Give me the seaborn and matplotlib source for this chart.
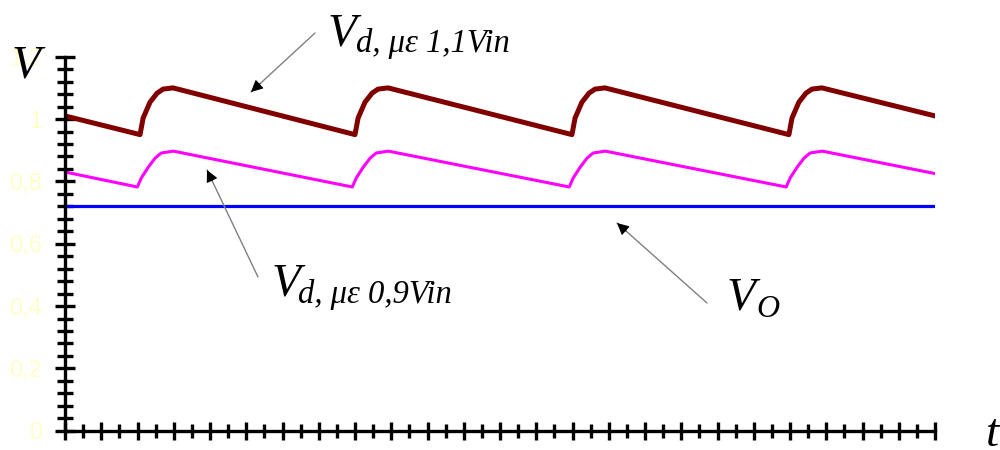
import numpy as np
import matplotlib
matplotlib.use("Agg")
import matplotlib.pyplot as plt
import seaborn as sns

# Time axis in tick units (48 divisions along t)
t_high = [0.0, 4.14, 4.31, 4.69, 5.08, 5.41, 5.96,
          16.0, 16.17, 16.55, 16.94, 17.27, 17.82,
          27.97, 28.14, 28.52, 28.91, 29.24, 29.79,
          39.94, 40.11, 40.49, 40.88, 41.21, 41.76, 48.0]
v_high = [1.01, 0.95, 1.003, 1.054, 1.083, 1.096, 1.10,
          0.95, 1.003, 1.054, 1.083, 1.096, 1.10,
          0.95, 1.003, 1.054, 1.083, 1.096, 1.10,
          0.95, 1.003, 1.054, 1.083, 1.096, 1.10, 1.01]

t_low = [0.0, 3.99, 4.21, 4.60, 4.98, 5.31, 5.98,
         15.85, 16.07, 16.46, 16.84, 17.17, 17.84,
         27.82, 28.04, 28.43, 28.81, 29.14, 29.81,
         39.79, 40.01, 40.40, 40.78, 41.11, 41.78, 48.0]
v_low = [0.83, 0.782, 0.811, 0.846, 0.875, 0.891, 0.897,
         0.782, 0.811, 0.846, 0.875, 0.891, 0.897,
         0.782, 0.811, 0.846, 0.875, 0.891, 0.897,
         0.782, 0.811, 0.846, 0.875, 0.891, 0.897, 0.825]

t_out = [0.0, 48.0]
v_out = [0.72, 0.72]

y_ticks = [0.0, 0.2, 0.4, 0.6, 0.8, 1.0, 1.2]
y_tick_labels = ["0", "0,2", "0,4", "0,6", "0,8", "1", "1,2"]

label_high = "d, με 1,1Vin"
label_low = "d, με 0,9Vin"
label_out = "O"

sns.set_theme(style="white")
plt.rcParams["font.family"] = ["Liberation Sans", "DejaVu Sans"]

W, H = 1000, 450
fig = plt.figure(figsize=(W / 100, H / 100), dpi=100)
ax = fig.add_axes([65 / W, (H - 430.7) / H, 870 / W, 374 / H])

sns.lineplot(x=t_out, y=v_out, ax=ax, color="#0000FF", linewidth=2.3)
sns.lineplot(x=t_low, y=v_low, ax=ax, color="#FF00FF", linewidth=2.2)
sns.lineplot(x=t_high, y=v_high, ax=ax, color="#800000", linewidth=3.6)

ax.set_xlim(0, 48)
ax.set_ylim(0, 1.2)
ax.set_xlabel("")
ax.set_ylabel("")

for side in ("top", "right"):
    ax.spines[side].set_visible(False)
for side in ("left", "bottom"):
    ax.spines[side].set_color("black")
    ax.spines[side].set_linewidth(2.4)

# y axis: labelled ticks every 0.2, small ticks every 0.04
ax.set_yticks(y_ticks)
ax.set_yticklabels(y_tick_labels)
ax.set_yticks(np.arange(0, 1.2001, 0.04), minor=True)
# x axis: long ticks on even divisions, short ones on odd divisions
ax.set_xticks(np.arange(0, 48.5, 2))
ax.set_xticklabels([])
ax.set_xticks(np.arange(1, 48, 2), minor=True)

ax.tick_params(axis="y", which="major", direction="inout", length=14.4,
               width=2.4, color="black", pad=9.4, labelsize=17,
               labelcolor="#FFFFC8", left=True)
ax.tick_params(axis="y", which="minor", direction="inout", length=12,
               width=2.4, color="black", left=True)
ax.tick_params(axis="x", which="major", direction="inout", length=13,
               width=2.4, color="black", bottom=True)
ax.tick_params(axis="x", which="minor", direction="inout", length=10,
               width=2.4, color="black", bottom=True)
ax.set_facecolor("white")

serif = dict(family=["Liberation Serif", "DejaVu Serif"], style="italic", color="black")


def px(x, y):
    return x / W, (H - y) / H


def label(xv, yv, xs, ys, sub, sub_size=23.5):
    fig.text(*px(xv, yv), "V", fontsize=34, va="baseline", ha="left", **serif)
    fig.text(*px(xs, ys), sub, fontsize=sub_size, va="baseline", ha="left", **serif)


def pointer(tail, head):
    tx, ty = tail[0], H - tail[1]
    hx, hy = head[0], H - head[1]
    ax.annotate("", xy=(hx, hy), xycoords="figure pixels",
                xytext=(tx, ty), textcoords="figure pixels",
                arrowprops=dict(arrowstyle="-", color="#808080", lw=1.0,
                                shrinkA=0, shrinkB=0))
    d = np.hypot(hx - tx, hy - ty)
    bx, by = hx - (hx - tx) / d * 12, hy - (hy - ty) / d * 12
    ax.annotate("", xy=(hx, hy), xycoords="figure pixels",
                xytext=(bx, by), textcoords="figure pixels",
                arrowprops=dict(arrowstyle="-|>,head_length=0.4,head_width=0.2",
                                mutation_scale=18, color="black", lw=0.8,
                                shrinkA=0, shrinkB=0))


label(328, 45, 356, 52, label_high)
label(272, 295, 298, 303, label_low)
label(727, 310, 756, 317, label_out, sub_size=23)

pointer((315, 33), (251, 92))
pointer((258, 277), (207, 170))
pointer((707, 303), (617, 223))

# axis names
fig.text(*px(12, 78), "V", fontsize=34, va="baseline", ha="left", **serif)
fig.text(*px(986, 446), "t", fontsize=34, va="baseline", ha="left", **serif)

fig.savefig("out.png", dpi=100)
